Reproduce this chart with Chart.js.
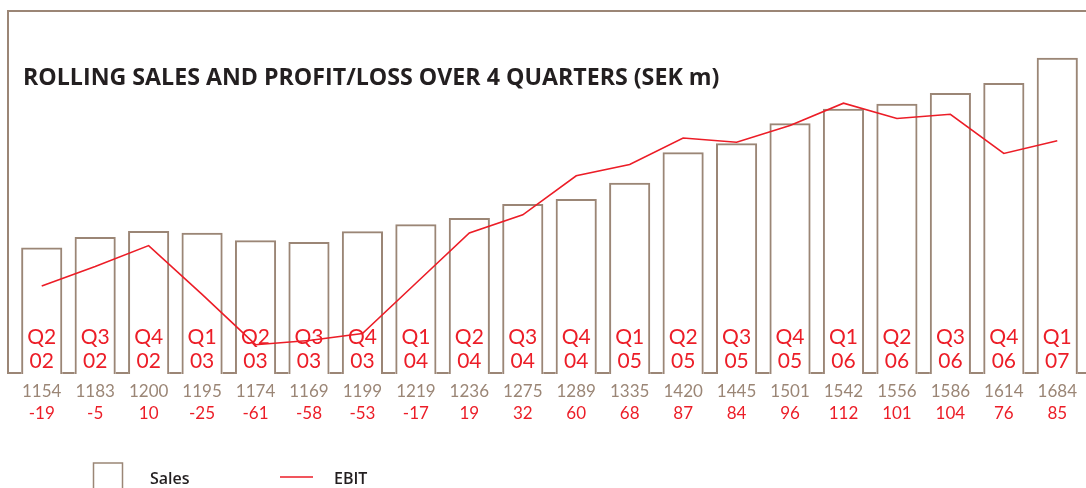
<!DOCTYPE html>
<html>
<head>
<meta charset="utf-8">
<script src="https://cdn.jsdelivr.net/npm/chart.js@4"></script>
<style>
  html, body { margin: 0; padding: 0; background: #fff; }
  #wrap { width: 1086px; height: 488px; position: relative; }
</style>
</head>
<body>
<div id="wrap"><canvas id="salesChart"></canvas></div>
<script>
// chart data (SEK m)
const quarters = ['Q2', 'Q3', 'Q4', 'Q1', 'Q2', 'Q3', 'Q4', 'Q1', 'Q2', 'Q3', 'Q4', 'Q1', 'Q2', 'Q3', 'Q4', 'Q1', 'Q2', 'Q3', 'Q4', 'Q1'];
const years = ['02', '02', '02', '03', '03', '03', '03', '04', '04', '04', '04', '05', '05', '05', '05', '06', '06', '06', '06', '07'];
const sales = [1154, 1183, 1200, 1195, 1174, 1169, 1199, 1219, 1236, 1275, 1289, 1335, 1420, 1445, 1501, 1542, 1556, 1586, 1614, 1684];
const ebit = [-19, -5, 10, -25, -61, -58, -53, -17, 19, 32, 60, 68, 87, 84, 96, 112, 101, 104, 76, 85];
const title = 'ROLLING SALES AND PROFIT/LOSS OVER 4 QUARTERS (SEK m)';

const BROWN = '#9b8676';
const RED = '#ec1d27';
const labels = quarters.map((q, i) => q + ' ' + years[i]);

// frame, baseline, labels inside bars, values under axis, legend
const decorPlugin = {
  id: 'decor',
  afterDraw(chart) {
    const ctx = chart.ctx;
    const area = chart.chartArea;
    const x = chart.scales.x;
    const bars = chart.getDatasetMeta(0).data;
    ctx.save();

    // frame: top and left
    ctx.strokeStyle = BROWN;
    ctx.lineWidth = 2;
    ctx.beginPath();
    ctx.moveTo(8, area.bottom);
    ctx.lineTo(8, area.top);
    ctx.lineTo(chart.width, area.top);
    ctx.stroke();

    // baseline between bars
    ctx.beginPath();
    let prev = 8;
    bars.forEach(b => {
      ctx.moveTo(prev, area.bottom - 1);
      ctx.lineTo(b.x - b.width / 2, area.bottom - 1);
      prev = b.x + b.width / 2;
    });
    ctx.moveTo(prev, area.bottom - 1);
    ctx.lineTo(chart.width, area.bottom - 1);
    ctx.stroke();

    // quarter labels inside bars
    ctx.textAlign = 'center';
    ctx.textBaseline = 'middle';
    ctx.fillStyle = RED;
    ctx.font = '21px Lato';
    quarters.forEach((q, i) => {
      const cx = x.getPixelForValue(i);
      ctx.fillText(q, cx, 337);
      ctx.fillText(years[i], cx, 361);
    });

    // values under the axis
    ctx.font = '17px Lato';
    sales.forEach((v, i) => {
      const cx = x.getPixelForValue(i);
      ctx.fillStyle = BROWN;
      ctx.fillText(String(v), cx, 392);
      ctx.fillStyle = RED;
      ctx.fillText(String(ebit[i]), cx, 414);
    });

    // title
    ctx.textAlign = 'left';
    ctx.textBaseline = 'alphabetic';
    ctx.fillStyle = '#231f20';
    ctx.font = 'bold 23.2px "Open Sans"';
    ctx.fillText(title, 23, 85);

    // legend
    ctx.strokeStyle = BROWN;
    ctx.lineWidth = 1.5;
    ctx.strokeRect(93.5, 463, 29, 30);
    ctx.strokeStyle = RED;
    ctx.lineWidth = 1.5;
    ctx.beginPath();
    ctx.moveTo(280, 477);
    ctx.lineTo(313, 477);
    ctx.stroke();
    ctx.fillStyle = '#231f20';
    ctx.font = '600 16px "Open Sans"';
    ctx.textBaseline = 'middle';
    ctx.fillText(chart.data.datasets[0].label, 150, 479);
    ctx.fillText(chart.data.datasets[1].label, 334, 479);
    ctx.restore();
  }
};

const ctx = document.getElementById('salesChart').getContext('2d');
const chart = new Chart(ctx, {
  type: 'bar',
  data: {
    labels: labels,
    datasets: [
      {
        type: 'bar',
        label: 'Sales',
        data: sales,
        yAxisID: 'ySales',
        backgroundColor: 'rgba(255,255,255,0)',
        borderColor: BROWN,
        borderWidth: 2,
        borderSkipped: 'bottom',
        categoryPercentage: 1,
        barPercentage: 0.77,
        order: 2
      },
      {
        type: 'line',
        label: 'EBIT',
        data: ebit,
        yAxisID: 'yEbit',
        borderColor: RED,
        borderWidth: 1.6,
        pointRadius: 0,
        tension: 0,
        fill: false,
        order: 1
      }
    ]
  },
  options: {
    responsive: true,
    maintainAspectRatio: false,
    animation: false,
    layout: { padding: { top: 11, bottom: 114, left: 15, right: 2 } },
    plugins: {
      legend: { display: false },
      tooltip: { enabled: false }
    },
    scales: {
      x: { display: false, offset: true },
      ySales: { display: false, min: 800, max: 1815 },
      yEbit: { display: false, min: -82, max: 178 }
    }
  },
  plugins: [decorPlugin]
});
</script>
</body>
</html>
